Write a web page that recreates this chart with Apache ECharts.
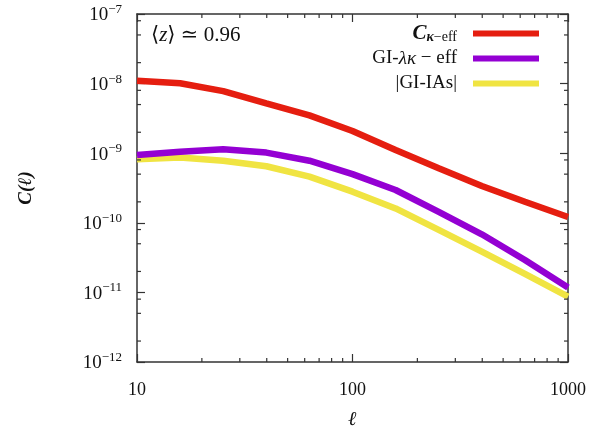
<!DOCTYPE html>
<html>
<head>
<meta charset="utf-8">
<script src="https://cdn.jsdelivr.net/npm/echarts@6.0.0/dist/echarts.min.js"></script>
<style>html,body{margin:0;padding:0;background:#fff;}#c{width:594px;height:430px;}</style>
</head>
<body>
<div id="c"></div>
<script>
// multipoles (log-spaced)
const ells = [10, 15.85, 25.12, 39.81, 63.1, 100, 158.5, 251.2, 398.1, 631, 1000];
// C_{kappa-eff}
const cKappaEff = [1.10e-8, 1.01e-8, 7.8e-9, 5.2e-9, 3.5e-9, 2.08e-9, 1.11e-9, 6.07e-10, 3.38e-10, 2.01e-10, 1.21e-10];
// GI-lambda kappa - eff
const giLambdaKappa = [9.4e-10, 1.05e-9, 1.14e-9, 1.02e-9, 7.8e-10, 5.0e-10, 2.96e-10, 1.44e-10, 6.84e-11, 2.92e-11, 1.18e-11];
// |GI-IAs|
const giIAs = [8.2e-10, 8.7e-10, 7.8e-10, 6.5e-10, 4.6e-10, 2.8e-10, 1.61e-10, 7.9e-11, 3.85e-11, 1.84e-11, 8.7e-12];

const seriesNames = ['Ck', 'GIlk', 'GIIA'];
const seriesColors = ['#e51e10', '#9400d3', '#f0e442'];
const xTickLabels = ['10', '100', '1000'];
// minor tick locations
const xMinorTicks = [20, 30, 40, 50, 60, 70, 80, 90, 200, 300, 400, 500, 600, 700, 800, 900];
const yMinorMult = [2, 5, 8];
const yDecades = [-12, -11, -10, -9, -8];

const SERIF = '"Liberation Serif", "DejaVu Serif", serif';
const AX = '#333';

const yMinorTicks = [];
yDecades.forEach(d => yMinorMult.forEach(m => yMinorTicks.push(m * Math.pow(10, d))));

function toPairs(xs, ys) { return xs.map((x, i) => [x, ys[i]]); }

const legendLabels = {
  Ck: '{ci|C}{subi|κ}{sub|−eff}',
  GIlk: 'GI-{i|λκ} − eff',
  GIIA: '|GI-IAs|'
};

const chart = echarts.init(document.getElementById('c'), null, {renderer: 'canvas'});

const logAxisCommon = {
  type: 'log',
  logBase: 10,
  axisLine: {show: true, onZero: false, lineStyle: {color: AX, width: 1.5}},
  axisTick: {show: true, inside: true, length: 8, lineStyle: {color: AX, width: 1.2}},
  splitLine: {show: false},
  minorTick: {show: false},
  minorSplitLine: {show: false}
};

const option = {
  animation: false,
  backgroundColor: '#fff',
  grid: {left: 137, right: 26, top: 14, bottom: 68, containLabel: false, outerBoundsMode: 'none'},
  xAxis: [
    Object.assign({}, logAxisCommon, {
      min: 10, max: 1000, position: 'bottom',
      name: 'ℓ', nameLocation: 'middle', nameGap: 48,
      nameTextStyle: {fontFamily: SERIF, fontSize: 20, fontStyle: 'italic', fontWeight: 'bold', color: '#111'},
      axisLabel: {
        margin: 19, fontFamily: SERIF, fontSize: 18, color: '#111',
        formatter: v => {
          const e = Math.round(Math.log10(v));
          return xTickLabels[e - 1] || '';
        }
      }
    }),
    Object.assign({}, logAxisCommon, {
      min: 10, max: 1000, position: 'top', axisLabel: {show: false}
    })
  ],
  yAxis: [
    Object.assign({}, logAxisCommon, {
      min: 1e-12, max: 1e-7, position: 'left', splitNumber: 5,
      name: 'C(ℓ)', nameLocation: 'middle', nameGap: 101, nameRotate: 90,
      nameTextStyle: {fontFamily: SERIF, fontSize: 19, fontStyle: 'italic', fontWeight: 'bold', color: '#111'},
      axisLabel: {
        margin: 15, color: '#111',
        formatter: v => {
          const e = Math.round(Math.log10(v));
          return '{b|10}{s|−' + (-e) + '}';
        },
        rich: {
          b: {fontFamily: SERIF, fontSize: 19, color: '#111', lineHeight: 22, verticalAlign: 'bottom'},
          s: {fontFamily: SERIF, fontSize: 13, color: '#111', lineHeight: 22, verticalAlign: 'top', padding: [0, 0, 6, 0]}
        }
      }
    }),
    Object.assign({}, logAxisCommon, {
      min: 1e-12, max: 1e-7, position: 'right', splitNumber: 5, axisLabel: {show: false}
    })
  ],
  legend: {
    show: true,
    data: seriesNames,
    orient: 'vertical',
    right: 55,
    top: 23,
    padding: 0,
    align: 'right',
    itemWidth: 66,
    itemHeight: 6,
    itemGap: 4,
    icon: 'rect',
    formatter: n => legendLabels[n],
    textStyle: {
      fontFamily: SERIF, fontSize: 19, color: '#111', lineHeight: 21, padding: [0, 11, 0, 0],
      rich: {
        ci: {fontFamily: SERIF, fontSize: 21, fontStyle: 'italic', fontWeight: 'bold', color: '#111'},
        subi: {fontFamily: SERIF, fontSize: 14, fontStyle: 'italic', fontWeight: 'bold', color: '#111', verticalAlign: 'bottom', padding: [6, 0, 0, 0]},
        sub: {fontFamily: SERIF, fontSize: 14, color: '#111', verticalAlign: 'bottom', padding: [6, 0, 0, 0]},
        i: {fontFamily: SERIF, fontSize: 19, fontStyle: 'italic', color: '#111'}
      }
    }
  },
  graphic: [{
    type: 'text',
    left: 151,
    top: 25,
    style: {
      text: '⟨{i|z}⟩ ≃ 0.96',
      fontFamily: SERIF, fontSize: 21, fill: '#111',
      rich: {i: {fontFamily: SERIF, fontSize: 21, fontStyle: 'italic', fill: '#111'}}
    }
  }],
  series: [
    {name: 'Ck', type: 'line', data: toPairs(ells, cKappaEff), showSymbol: false, symbol: 'none',
     lineStyle: {color: seriesColors[0], width: 6.5}, itemStyle: {color: seriesColors[0]}, z: 5},
    {name: 'GIlk', type: 'line', data: toPairs(ells, giLambdaKappa), showSymbol: false, symbol: 'none',
     lineStyle: {color: seriesColors[1], width: 6.5}, itemStyle: {color: seriesColors[1]}, z: 4},
    {name: 'GIIA', type: 'line', data: toPairs(ells, giIAs), showSymbol: false, symbol: 'none',
     lineStyle: {color: seriesColors[2], width: 6.5}, itemStyle: {color: seriesColors[2]}, z: 3},
    {
      name: 'xminor', type: 'custom', silent: true, z: 10,
      data: xMinorTicks.map(v => [v, 1e-12]),
      renderItem: (params, api) => {
        const cs = params.coordSys;
        const x = api.coord([api.value(0), 1e-12])[0];
        const yb = cs.y + cs.height, yt = cs.y;
        return {type: 'group', children: [
          {type: 'line', shape: {x1: x, y1: yb, x2: x, y2: yb - 4}, style: {stroke: AX, lineWidth: 1.2}},
          {type: 'line', shape: {x1: x, y1: yt, x2: x, y2: yt + 4}, style: {stroke: AX, lineWidth: 1.2}}
        ]};
      }
    },
    {
      name: 'yminor', type: 'custom', silent: true, z: 10,
      data: yMinorTicks.map(v => [10, v]),
      renderItem: (params, api) => {
        const cs = params.coordSys;
        const y = api.coord([10, api.value(1)])[1];
        const xl = cs.x, xr = cs.x + cs.width;
        return {type: 'group', children: [
          {type: 'line', shape: {x1: xl, y1: y, x2: xl + 4, y2: y}, style: {stroke: AX, lineWidth: 1.2}},
          {type: 'line', shape: {x1: xr, y1: y, x2: xr - 4, y2: y}, style: {stroke: AX, lineWidth: 1.2}}
        ]};
      }
    }
  ]
};
chart.setOption(option);
</script>
</body>
</html>
